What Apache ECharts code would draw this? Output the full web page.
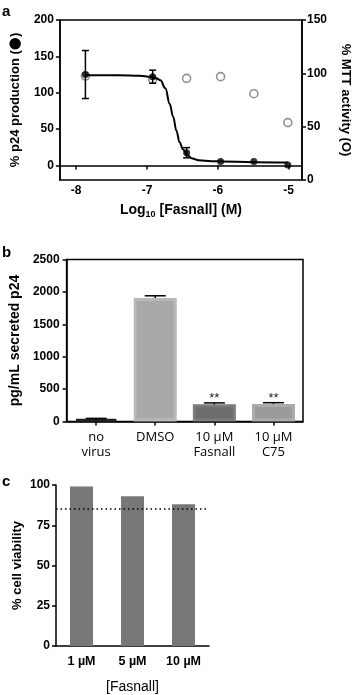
<!DOCTYPE html>
<html><head><meta charset="utf-8">
<script src="https://cdn.jsdelivr.net/npm/echarts@6/dist/echarts.min.js"></script>
<style>html,body{margin:0;padding:0;background:#fff}#c{width:360px;height:695px}</style>
</head><body><div id="c"></div>
<script>
// ---- Panel a data ----
const doseLog = [-7.87, -6.92, -6.44, -5.96, -5.49, -5.01];
const p24Pct = [125, 122, 17.5, 5.5, 5.5, 0.5];
const p24Err = [33, 9, 7, 0, 0, 0];
const mttPct = [97.5, 94.4, 95.3, 96.9, 80.9, 53.8];
const fitX = [-7.87, -7.4, -7.1, -6.95, -6.86, -6.81, -6.74, -6.68, -6.63, -6.585, -6.54, -6.49, -6.43, -6.36, -6.27, -6.09, -5.95, -5.5, -5.01];
const fitY = [124, 124, 123.5, 122, 119.5, 117, 106, 85, 67, 48, 32, 22, 14, 9.5, 7, 5.8, 5.5, 4.5, 4];
const xTicksA = [-8, -7, -6, -5];
const yTicksA = [0, 50, 100, 150, 200];

// ---- Panel b data ----
const groupsB = ['no\nvirus', 'DMSO', '10 µM\nFasnall', '10 µM\nC75'];
const p24Secreted = [40, 1905, 265, 270];
const p24SecretedErr = [8, 35, 22, 20];
const sigB = ['', '', '**', '**'];

// ---- Panel c data ----
const concC = ['1 µM', '5 µM', '10 µM'];
const viability = [99, 93, 88];
const viabilityCutoff = 85;

// styles
const barFillB = ['#151515', '#a9a9a9', '#6c6c6c', '#9a9a9a'];
const barEdgeB = ['#222222', '#b9b9b9', '#7c7c7c', '#ababab'];
const F = 'Liberation Sans, Arial, sans-serif';
const lbl = {color: '#000', fontFamily: F, fontWeight: 'bold', fontSize: 12};
const axLine = {show: true, lineStyle: {color: '#000', width: 1.5}};
const axTick = {show: true, length: 4, lineStyle: {color: '#000', width: 1.5}};
const nameStyle = {color: '#000', fontFamily: F, fontWeight: 'bold', fontSize: 13};

const chart = echarts.init(document.getElementById('c'), null, {renderer: 'canvas'});

function errA(params, api) {
  const x = api.value(0), y = api.value(1), e = api.value(2);
  const t = api.coord([x, y + e]), b = api.coord([x, y - e]);
  const hw = 3.5, st = {stroke: '#000', lineWidth: 1.5};
  return {type: 'group', children: [
    {type: 'line', shape: {x1: t[0], y1: t[1], x2: b[0], y2: b[1]}, style: st},
    {type: 'line', shape: {x1: t[0] - hw, y1: t[1], x2: t[0] + hw, y2: t[1]}, style: st},
    {type: 'line', shape: {x1: b[0] - hw, y1: b[1], x2: b[0] + hw, y2: b[1]}, style: st}
  ]};
}
function errB(params, api) {
  const i = api.value(0), y = api.value(1), e = api.value(2);
  const m = api.coord([i, y]), t = api.coord([i, y + e]);
  const hw = 10.5, st = {stroke: '#000', lineWidth: 1.5};
  const ch = [
    {type: 'line', shape: {x1: t[0], y1: m[1], x2: t[0], y2: t[1]}, style: st},
    {type: 'line', shape: {x1: t[0] - hw, y1: t[1], x2: t[0] + hw, y2: t[1]}, style: st}
  ];
  const s = sigB[params.dataIndex];
  if (s) ch.push({type: 'text', style: {text: s, x: t[0], y: t[1] - 4, align: 'center', verticalAlign: 'middle', fill: '#222', font: '13px Liberation Sans'}});
  return {type: 'group', children: ch};
}

chart.setOption({
  animation: false,
  backgroundColor: '#fff',
  graphic: [
    {type: 'text', left: 2, top: 4, style: {text: 'a', font: 'bold 15px Liberation Sans', fill: '#000'}},
    {type: 'text', left: 2, top: 245, style: {text: 'b', font: 'bold 15px Liberation Sans', fill: '#000'}},
    {type: 'text', left: 2, top: 474, style: {text: 'c', font: 'bold 15px Liberation Sans', fill: '#000'}}
  ],
  grid: [
    {left: 59, top: 20, width: 251.5, height: 160, show: true, borderColor: '#000', borderWidth: 1.5},
    {left: 59, top: 259.5, width: 244, height: 162, show: true, borderColor: '#000', borderWidth: 1.5},
    {left: 56, top: 485, width: 153, height: 161}
  ],
  xAxis: [
    {gridIndex: 0, type: 'value', min: -8.23, max: -4.81,
     axisLine: axLine, axisTick: Object.assign({customValues: xTicksA}, axTick),
     axisLabel: Object.assign({customValues: xTicksA, margin: 5}, lbl), splitLine: {show: false},
     name: 'Log{s|10} [Fasnall] (M)', nameLocation: 'middle', nameGap: 21,
     nameTextStyle: {color: '#000', fontFamily: F, fontWeight: 'bold', fontSize: 14,
       rich: {s: {fontFamily: F, fontWeight: 'bold', fontSize: 9, padding: [9, 0, 0, 0]}}}},
    {gridIndex: 1, type: 'category', data: groupsB,
     axisLine: axLine, axisTick: Object.assign({alignWithLabel: true}, axTick),
     axisLabel: {color: '#000', fontFamily: 'Open Sans, sans-serif', fontSize: 13, lineHeight: 15, margin: 8}},
    {gridIndex: 2, type: 'category', data: concC,
     axisLine: axLine, axisTick: {show: false},
     axisLabel: Object.assign({margin: 9}, lbl, {fontSize: 12.5}),
     name: '[Fasnall]', nameLocation: 'middle', nameGap: 34,
     nameTextStyle: {color: '#000', fontFamily: F, fontSize: 14}}
  ],
  yAxis: [
    {gridIndex: 0, type: 'value', min: -20, max: 200,
     axisLine: axLine, axisTick: Object.assign({customValues: yTicksA}, axTick),
     axisLabel: Object.assign({customValues: yTicksA, margin: 6}, lbl), splitLine: {show: false},
     name: '% p24 production ({d|●})', nameLocation: 'middle', nameGap: 35,
     nameTextStyle: Object.assign({}, nameStyle, {rich: {d: {fontFamily: 'DejaVu Sans', fontSize: 15, color: '#000'}}})},
    {gridIndex: 0, type: 'value', position: 'right', min: 0, max: 150, interval: 50,
     axisLine: axLine, axisTick: axTick, axisLabel: Object.assign({margin: 5}, lbl), splitLine: {show: false},
     name: '% MTT activity (O)', nameLocation: 'middle', nameGap: 37, nameRotate: -90, nameTextStyle: nameStyle},
    {gridIndex: 1, type: 'value', min: 0, max: 2500, interval: 500,
     axisLine: axLine, axisTick: axTick,
     axisLabel: Object.assign({margin: 7, formatter: v => String(v)}, lbl), splitLine: {show: false},
     name: 'pg/mL secreted p24', nameLocation: 'middle', nameGap: 39, nameTextStyle: Object.assign({}, nameStyle, {fontSize: 14})},
    {gridIndex: 2, type: 'value', min: 0, max: 100, interval: 25,
     axisLine: axLine, axisTick: axTick, axisLabel: Object.assign({margin: 6}, lbl), splitLine: {show: false},
     name: '% cell viability', nameLocation: 'middle', nameGap: 32, nameTextStyle: nameStyle}
  ],
  series: [
    {type: 'scatter', xAxisIndex: 0, yAxisIndex: 1, data: doseLog.map((x, i) => [x, mttPct[i]]),
     symbol: 'circle', symbolSize: 8, itemStyle: {color: 'rgba(255,255,255,0)', borderColor: '#777', borderWidth: 1.6}, z: 2},
    {type: 'line', xAxisIndex: 0, yAxisIndex: 0, data: fitX.map((x, i) => [x, fitY[i]]),
     smooth: 0.4, smoothMonotone: 'x', showSymbol: false, lineStyle: {color: '#000', width: 2}, z: 3},
    {type: 'custom', xAxisIndex: 0, yAxisIndex: 0, encode: {x: 0, y: 1},
     data: doseLog.map((x, i) => [x, p24Pct[i], p24Err[i]]).filter(d => d[2] > 0), renderItem: errA, z: 4},
    {type: 'scatter', xAxisIndex: 0, yAxisIndex: 0, data: doseLog.map((x, i) => [x, p24Pct[i]]),
     symbol: 'circle', symbolSize: 7, itemStyle: {color: '#000'}, z: 5},

    {type: 'bar', xAxisIndex: 1, yAxisIndex: 2, barWidth: 43,
     data: p24Secreted.map((v, i) => ({value: v, itemStyle: {color: barFillB[i], borderColor: barEdgeB[i], borderWidth: 3}}))},
    {type: 'custom', xAxisIndex: 1, yAxisIndex: 2, encode: {x: 0, y: 1},
     data: p24Secreted.map((v, i) => [i, v, p24SecretedErr[i]]), renderItem: errB, z: 5},

    {type: 'bar', xAxisIndex: 2, yAxisIndex: 3, barWidth: 23, data: viability,
     itemStyle: {color: '#777777'},
     markLine: {symbol: 'none', silent: true, label: {show: false},
       lineStyle: {color: '#000', width: 1.5, type: [1.5, 3]}, data: [{yAxis: viabilityCutoff}]}}
  ]
});
</script>
</body></html>
